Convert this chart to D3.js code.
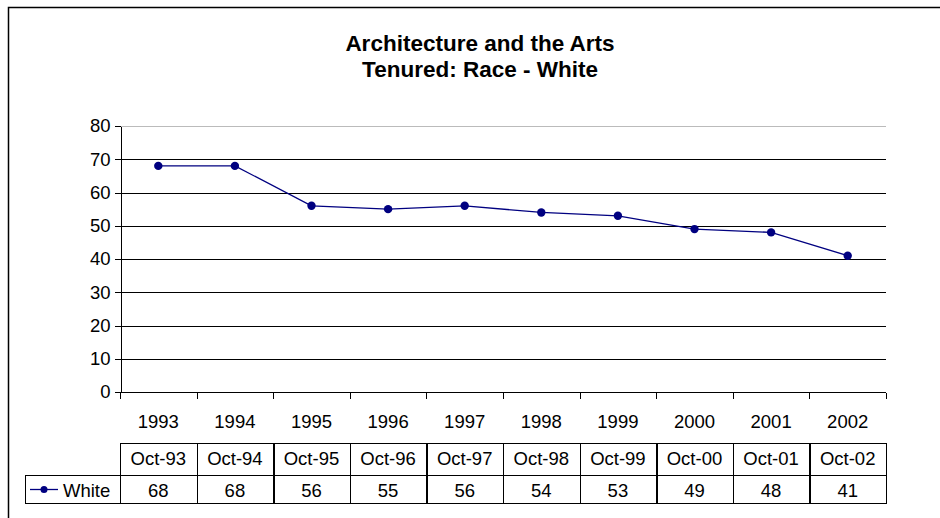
<!DOCTYPE html>
<meta charset="utf-8">
<title>Architecture and the Arts - Tenured: Race - White</title>
<style>
	body { margin: 0; background: #fff; }
	svg { font-family: Arial, "Liberation Sans", sans-serif; }
	.grid line { stroke-width: 1px; shape-rendering: crispEdges; }
	.axis path, .axis line { stroke: #000; shape-rendering: crispEdges; }
	.axis text { font-size: 18.5px; fill: #000; font-family: Arial, "Liberation Sans", sans-serif; }
	.cell { fill: none; stroke: #000; stroke-width: 1px; shape-rendering: crispEdges; }
	.tbl { font-size: 18.5px; fill: #000; text-anchor: middle; }
</style>
<body>
<script src="https://d3js.org/d3.v7.min.js"></script>
<script>

var width = 940,
	height = 518;

var years = ["1993", "1994", "1995", "1996", "1997", "1998", "1999", "2000", "2001", "2002"];
var dateLabels = ["Oct-93", "Oct-94", "Oct-95", "Oct-96", "Oct-97", "Oct-98", "Oct-99", "Oct-00", "Oct-01", "Oct-02"];
var white = [68, 68, 56, 55, 56, 54, 53, 49, 48, 41];
var yTicks = [0, 10, 20, 30, 40, 50, 60, 70, 80];
var seriesName = "White";
var titleLines = ["Architecture and the Arts", "Tenured: Race - White"];

var plotL = 120, plotR = 886, plotT = 126, plotB = 392;
var navy = "#000080";

var svg = d3.select("body").append("svg")
	.attr("width", width)
	.attr("height", height);

// outer chart border (runs off the right and bottom edges)
svg.append("rect")
	.attr("x", 8.5).attr("y", 7.5)
	.attr("width", 960).attr("height", 560)
	.attr("fill", "#fff").attr("stroke", "#000").attr("stroke-width", 1.5);

var title = svg.append("text")
	.attr("text-anchor", "middle")
	.attr("font-size", "22.5px")
	.attr("font-weight", "bold");
title.selectAll("tspan").data(titleLines).enter().append("tspan")
	.attr("x", 480)
	.attr("y", function(d, i) { return 51 + i * 25.5; })
	.text(function(d) { return d; });

var x = d3.scaleBand().domain(years).range([plotL, plotR]);
var y = d3.scaleLinear().domain([0, 80]).range([plotB, plotT]);

// gridlines
svg.append("g").attr("class", "grid")
	.selectAll("line").data(yTicks.slice(1)).enter().append("line")
	.attr("x1", plotL).attr("x2", plotR)
	.attr("y1", function(d) { return Math.round(y(d)) + 0.5; })
	.attr("y2", function(d) { return Math.round(y(d)) + 0.5; })
	.attr("stroke", function(d) { return d === 80 ? "#bbb" : "#000"; });

// y axis
svg.append("g").attr("class", "axis")
	.attr("transform", "translate(" + (plotL + 0.5) + ",0)")
	.call(d3.axisLeft(y).tickValues(yTicks).tickSize(6).tickPadding(4).tickSizeOuter(0));

// x axis with ticks at category boundaries
var xAxis = svg.append("g").attr("class", "axis")
	.attr("transform", "translate(0," + (plotB + 0.5) + ")");
xAxis.append("line").attr("x1", plotL).attr("x2", plotR).attr("stroke", "#000");
xAxis.selectAll(".tk").data(years.concat(["end"])).enter().append("line")
	.attr("class", "tk")
	.attr("x1", function(d, i) { return Math.round(plotL + i * x.step()) + 0.5; })
	.attr("x2", function(d, i) { return Math.round(plotL + i * x.step()) + 0.5; })
	.attr("y1", 0).attr("y2", 6).attr("stroke", "#000");
xAxis.selectAll("text").data(years).enter().append("text")
	.attr("x", function(d) { return x(d) + x.bandwidth() / 2; })
	.attr("y", 35)
	.attr("text-anchor", "middle")
	.text(function(d) { return d; });

// line + markers
var line = d3.line()
	.x(function(d, i) { return x(years[i]) + x.bandwidth() / 2; })
	.y(function(d) { return y(d); });

svg.append("path").datum(white)
	.attr("d", line)
	.attr("fill", "none")
	.attr("stroke", navy)
	.attr("stroke-width", 1.3);

svg.selectAll(".dot").data(white).enter().append("circle")
	.attr("class", "dot")
	.attr("cx", function(d, i) { return x(years[i]) + x.bandwidth() / 2; })
	.attr("cy", function(d) { return y(d); })
	.attr("r", 4.2)
	.attr("fill", navy);

// data table
var row1 = 443, row2 = 475, row3 = 503;
var tbl = svg.append("g");

tbl.selectAll(".hcell").data(dateLabels).enter().append("rect")
	.attr("class", "cell")
	.attr("x", function(d, i) { return Math.round(x(years[i])) + 0.5; })
	.attr("y", row1 + 0.5)
	.attr("width", x.bandwidth()).attr("height", row2 - row1);
tbl.selectAll(".vcell").data(white).enter().append("rect")
	.attr("class", "cell")
	.attr("x", function(d, i) { return Math.round(x(years[i])) + 0.5; })
	.attr("y", row2 + 0.5)
	.attr("width", x.bandwidth()).attr("height", row3 - row2);
tbl.append("rect").attr("class", "cell")
	.attr("x", 25.5).attr("y", row2 + 0.5)
	.attr("width", plotL - 25).attr("height", row3 - row2);

tbl.selectAll(".hlab").data(dateLabels).enter().append("text")
	.attr("class", "tbl")
	.attr("x", function(d, i) { return x(years[i]) + x.bandwidth() / 2; })
	.attr("y", row1 + 22)
	.text(function(d) { return d; });
tbl.selectAll(".vlab").data(white).enter().append("text")
	.attr("class", "tbl")
	.attr("x", function(d, i) { return x(years[i]) + x.bandwidth() / 2; })
	.attr("y", row2 + 21.5)
	.text(function(d) { return d; });

// legend key in the table
var ky = (row2 + row3) / 2 + 0.5;
tbl.append("line").attr("x1", 30).attr("x2", 58).attr("y1", ky).attr("y2", ky)
	.attr("stroke", navy).attr("stroke-width", 1.3);
tbl.append("circle").attr("cx", 44).attr("cy", ky).attr("r", 3.5).attr("fill", navy);
tbl.append("text").attr("x", 63).attr("y", row2 + 21.5)
	.attr("font-size", "18.5px")
	.text(seriesName);

</script>
